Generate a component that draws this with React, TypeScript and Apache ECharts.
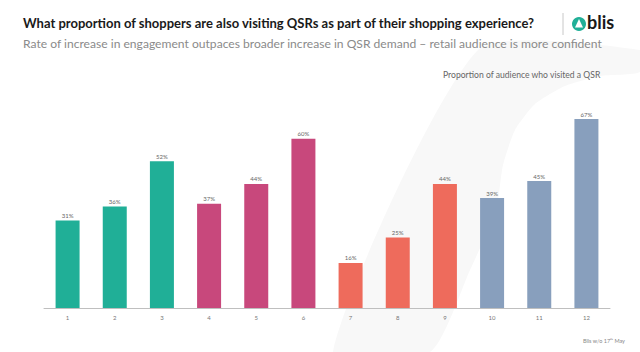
import React, { useEffect, useRef } from "react";
import * as echarts from "echarts";

const categories = ["1", "2", "3", "4", "5", "6", "7", "8", "9", "10", "11", "12"];
const values = [31, 36, 52, 37, 44, 60, 16, 25, 44, 39, 45, 67];
const groupColors = ["#20AF97", "#20AF97", "#20AF97", "#C8487C", "#C8487C", "#C8487C", "#EE6B5C", "#EE6B5C", "#EE6B5C", "#889FBD", "#889FBD", "#889FBD"];
const titleText = "What proportion of shoppers are also visiting QSRs as part of their shopping experience?";
const subtitleText = "Rate of increase in engagement outpaces broader increase in QSR demand – retail audience is more confident";
const legendText = "Proportion of audience who visited a QSR";
const footerText = "Blis w/o 17ᵗʰ May";

export default function App() {
  const ref = useRef<HTMLDivElement>(null);
  useEffect(() => {
    const chart = echarts.init(ref.current!, undefined, { renderer: "svg" });
    chart.setOption({
      animation: false,
      backgroundColor: "#ffffff",
      textStyle: { fontFamily: "Lato" },
      grid: { left: 44, right: 30, top: 26, bottom: 44 },
      xAxis: {
        type: "category",
        data: categories,
        axisLine: { lineStyle: { color: "#bfbfbf", width: 1 } },
        axisTick: { show: false },
        axisLabel: { color: "#777", fontSize: 6, margin: 6 },
      },
      yAxis: { type: "value", min: 0, max: 100, show: false, splitLine: { show: false } },
      graphic: [
        {
          type: "polygon",
          shape: {
            points: [
              [333, 352], [478, 50], [640, 50], [640, 72], [600, 76], [565, 86], [535, 104],
              [515, 130], [503, 165], [496, 210], [470, 270], [430, 352],
            ],
            smooth: 0.2,
          },
          style: { fill: "#f8f8f8" },
          z: -10,
          silent: true,
        },
        { type: "text", left: 23, top: 16, style: { text: titleText, font: "bold 13px Lato", fill: "#1a1a1a" } },
        { type: "text", left: 23, top: 37, style: { text: subtitleText, font: "12.1px Lato", fill: "#8a8a8a" } },
        { type: "line", shape: { x1: 563, y1: 13, x2: 563, y2: 35 }, style: { stroke: "#c8c8c8", lineWidth: 1 } },
        { type: "circle", shape: { cx: 579, cy: 24, r: 7 }, style: { fill: "#20AF97" } },
        { type: "polygon", shape: { points: [[579, 19], [583, 27.5], [575, 27.5]] }, style: { fill: "#ffffff" } },
        { type: "text", left: 587, top: 13, style: { text: "blis", font: "bold 18px Lato", fill: "#1a1a1a" } },
        { type: "text", left: 443, top: 70, style: { text: legendText, font: "8.6px Lato", fill: "#666" } },
        { type: "text", left: 583, top: 338, style: { text: footerText, font: "5.5px Lato", fill: "#888" } },
      ],
      series: [
        {
          type: "bar",
          data: values.map((v, i) => ({ value: v, itemStyle: { color: groupColors[i] } })),
          barWidth: 24,
          label: { show: true, position: "top", distance: 2, formatter: "{c}%", fontSize: 6, color: "#666" },
        },
      ],
    });
    return () => chart.dispose();
  }, []);
  return <div ref={ref} style={{ width: 640, height: 352, position: "absolute", left: 0, top: 0 }} />;
}
